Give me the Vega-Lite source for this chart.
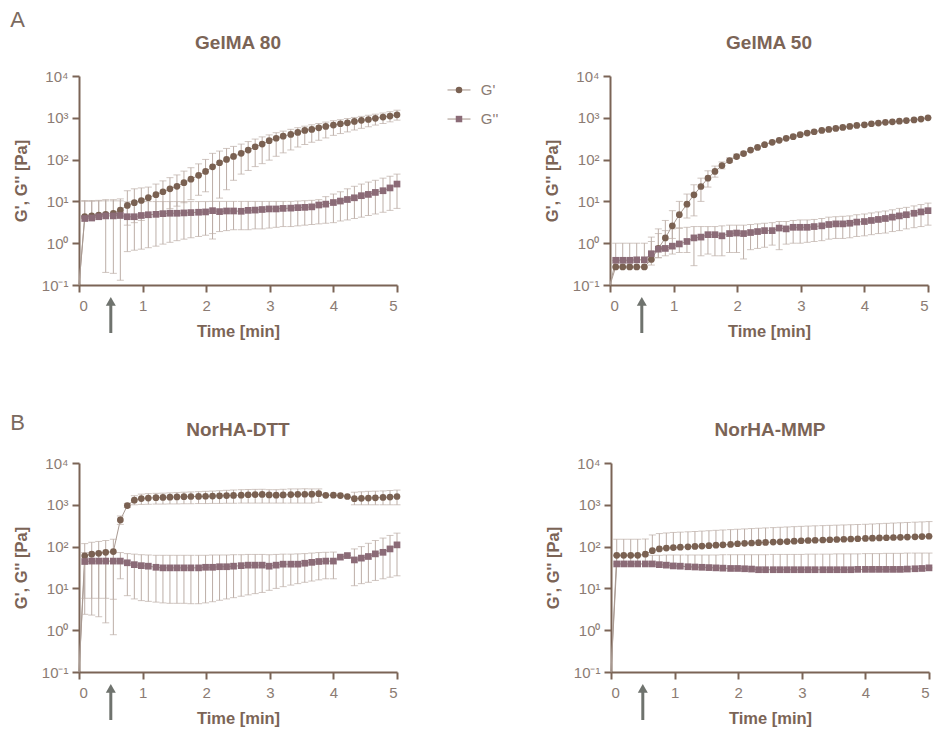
{
  "$schema": "https://vega.github.io/schema/vega-lite/v6.json",
  "background": "white",
  "padding": {"left": 10, "top": 9, "right": 5, "bottom": 0},
  "config": {
    "font": "Liberation Sans",
    "view": {"stroke": null},
    "axis": {"domainColor": "#7b6456", "domainWidth": 2, "tickColor": "#7b6456", "tickWidth": 2, "tickSize": 7, "labelColor": "#8b7b73", "labelFontSize": 15, "labelFont": "Liberation Sans", "titleColor": "#7b6456", "titleFontSize": 16.5, "titleFontWeight": "bold", "titleFont": "Liberation Sans", "grid": false},
    "title": {"fontSize": 22, "fontWeight": "normal", "color": "#7b6a60", "anchor": "start", "font": "Liberation Sans", "frame": "bounds"}
  },
  "data": {"name": "d"},
  "datasets": {
    "d": [
      {"p":"GelMA 80","t":0,"a":0.1,"b":0.1},
      {"p":"GelMA 80","t":0.09,"a":4.3,"al":4.3,"ah":10.5,"b":3.9,"bl":3.9,"bh":10},
      {"p":"GelMA 80","t":0.2,"a":4.5,"al":4.5,"ah":10.5,"b":4.0,"bl":4.0,"bh":10},
      {"p":"GelMA 80","t":0.31,"a":4.7,"al":4.7,"ah":10.6,"b":4.3,"bl":4.3,"bh":10.2},
      {"p":"GelMA 80","t":0.42,"a":4.9,"al":4.9,"ah":11,"b":4.5,"bl":0.2,"bh":10.3},
      {"p":"GelMA 80","t":0.54,"a":5.2,"al":5.2,"ah":11,"b":4.5,"bl":0.19,"bh":10.3},
      {"p":"GelMA 80","t":0.65,"a":6.2,"al":6.2,"ah":11.5,"b":4.6,"bl":0.13,"bh":10.3},
      {"p":"GelMA 80","t":0.76,"a":8.0,"al":2.7,"ah":18,"b":4.3,"bl":0.63,"bh":9.8},
      {"p":"GelMA 80","t":0.87,"a":9.3,"al":3.1,"ah":20,"b":4.3,"bl":0.68,"bh":9.8},
      {"p":"GelMA 80","t":0.98,"a":10.5,"al":3.5,"ah":21,"b":4.6,"bl":0.72,"bh":9.9},
      {"p":"GelMA 80","t":1.09,"a":12.3,"al":4.1,"ah":22,"b":4.8,"bl":0.78,"bh":9.9},
      {"p":"GelMA 80","t":1.21,"a":14.5,"al":4.8,"ah":26,"b":4.9,"bl":0.85,"bh":9.9},
      {"p":"GelMA 80","t":1.32,"a":17,"al":5.7,"ah":31,"b":5.1,"bl":0.95,"bh":9.9},
      {"p":"GelMA 80","t":1.43,"a":20,"al":6.7,"ah":37,"b":5.2,"bl":1.05,"bh":9.9},
      {"p":"GelMA 80","t":1.54,"a":23,"al":7.7,"ah":43,"b":5.2,"bl":1.15,"bh":9.9},
      {"p":"GelMA 80","t":1.65,"a":28,"al":9.3,"ah":53,"b":5.3,"bl":1.25,"bh":9.9},
      {"p":"GelMA 80","t":1.76,"a":34,"al":11,"ah":64,"b":5.4,"bl":1.35,"bh":9.9},
      {"p":"GelMA 80","t":1.88,"a":42,"al":14,"ah":79,"b":5.5,"bl":1.45,"bh":9.9},
      {"p":"GelMA 80","t":1.99,"a":52,"al":17,"ah":101,"b":5.6,"bl":1.55,"bh":9.9},
      {"p":"GelMA 80","t":2.1,"a":67,"al":1.26,"ah":141,"b":6.0,"bl":1.7,"bh":10},
      {"p":"GelMA 80","t":2.21,"a":84,"al":12,"ah":160,"b":5.7,"bl":1.9,"bh":10},
      {"p":"GelMA 80","t":2.32,"a":101,"al":19,"ah":185,"b":5.9,"bl":2.0,"bh":10},
      {"p":"GelMA 80","t":2.43,"a":119,"al":32,"ah":207,"b":5.9,"bl":2.1,"bh":10},
      {"p":"GelMA 80","t":2.55,"a":141,"al":45,"ah":235,"b":5.8,"bl":2.1,"bh":10},
      {"p":"GelMA 80","t":2.66,"a":169,"al":55,"ah":270,"b":6.1,"bl":2.1,"bh":10},
      {"p":"GelMA 80","t":2.77,"a":203,"al":68,"ah":310,"b":6.2,"bl":2.2,"bh":10},
      {"p":"GelMA 80","t":2.88,"a":235,"al":80,"ah":350,"b":6.4,"bl":2.2,"bh":10},
      {"p":"GelMA 80","t":2.99,"a":283,"al":97,"ah":390,"b":6.6,"bl":2.3,"bh":10},
      {"p":"GelMA 80","t":3.1,"a":324,"al":120,"ah":440,"b":6.6,"bl":2.4,"bh":10},
      {"p":"GelMA 80","t":3.21,"a":363,"al":145,"ah":480,"b":6.8,"bl":2.5,"bh":10},
      {"p":"GelMA 80","t":3.33,"a":400,"al":170,"ah":530,"b":6.9,"bl":2.5,"bh":10},
      {"p":"GelMA 80","t":3.44,"a":447,"al":200,"ah":580,"b":7.1,"bl":2.6,"bh":10.2},
      {"p":"GelMA 80","t":3.55,"a":500,"al":230,"ah":630,"b":7.2,"bl":2.7,"bh":10.4},
      {"p":"GelMA 80","t":3.66,"a":528,"al":260,"ah":680,"b":7.4,"bl":2.8,"bh":10.6},
      {"p":"GelMA 80","t":3.77,"a":576,"al":290,"ah":730,"b":8.2,"bl":2.9,"bh":11},
      {"p":"GelMA 80","t":3.88,"a":620,"al":330,"ah":790,"b":8.6,"bl":3.0,"bh":13},
      {"p":"GelMA 80","t":4.0,"a":670,"al":380,"ah":850,"b":9.4,"bl":3.1,"bh":15},
      {"p":"GelMA 80","t":4.11,"a":720,"al":420,"ah":900,"b":10.2,"bl":3.4,"bh":17},
      {"p":"GelMA 80","t":4.22,"a":760,"al":460,"ah":960,"b":11.1,"bl":3.6,"bh":20},
      {"p":"GelMA 80","t":4.33,"a":820,"al":510,"ah":1020,"b":12.2,"bl":3.9,"bh":23},
      {"p":"GelMA 80","t":4.44,"a":870,"al":560,"ah":1080,"b":13.7,"bl":4.2,"bh":26},
      {"p":"GelMA 80","t":4.55,"a":910,"al":610,"ah":1150,"b":14.7,"bl":4.6,"bh":29},
      {"p":"GelMA 80","t":4.66,"a":970,"al":670,"ah":1220,"b":16.4,"bl":5.0,"bh":32},
      {"p":"GelMA 80","t":4.78,"a":1040,"al":730,"ah":1300,"b":18,"bl":5.5,"bh":36},
      {"p":"GelMA 80","t":4.89,"a":1100,"al":800,"ah":1400,"b":21,"bl":6.1,"bh":40},
      {"p":"GelMA 80","t":5.0,"a":1180,"al":880,"ah":1520,"b":26,"bl":6.8,"bh":45},
      {"p":"GelMA 80","t":0.5,"u1":0.0071,"u2":0.0407},

      {"p":"GelMA 50","t":0,"a":0.1,"b":0.1},
      {"p":"GelMA 50","t":0.09,"a":0.27,"al":0.27,"ah":0.27,"b":0.39,"bl":0.39,"bh":1.0},
      {"p":"GelMA 50","t":0.2,"a":0.27,"al":0.27,"ah":0.27,"b":0.39,"bl":0.39,"bh":1.0},
      {"p":"GelMA 50","t":0.31,"a":0.27,"al":0.27,"ah":0.27,"b":0.39,"bl":0.39,"bh":1.0},
      {"p":"GelMA 50","t":0.42,"a":0.27,"al":0.27,"ah":0.27,"b":0.4,"bl":0.4,"bh":1.0},
      {"p":"GelMA 50","t":0.54,"a":0.27,"al":0.27,"ah":0.27,"b":0.4,"bl":0.4,"bh":1.0},
      {"p":"GelMA 50","t":0.65,"a":0.41,"al":0.3,"ah":1.4,"b":0.56,"bl":0.4,"bh":1.1},
      {"p":"GelMA 50","t":0.76,"a":0.75,"al":0.45,"ah":2.2,"b":0.72,"bl":0.45,"bh":1.7},
      {"p":"GelMA 50","t":0.87,"a":1.34,"al":0.7,"ah":3.5,"b":0.75,"bl":0.5,"bh":2.0},
      {"p":"GelMA 50","t":0.98,"a":2.6,"al":1.3,"ah":6,"b":0.85,"bl":0.55,"bh":2.2},
      {"p":"GelMA 50","t":1.09,"a":4.8,"al":2.3,"ah":10,"b":0.96,"bl":0.6,"bh":2.3},
      {"p":"GelMA 50","t":1.21,"a":8.6,"al":4,"ah":15,"b":1.1,"bl":0.6,"bh":2.4},
      {"p":"GelMA 50","t":1.32,"a":14.4,"al":4.5,"ah":25,"b":1.34,"bl":0.29,"bh":2.5},
      {"p":"GelMA 50","t":1.43,"a":22.7,"al":10,"ah":36,"b":1.4,"bl":0.5,"bh":2.5},
      {"p":"GelMA 50","t":1.54,"a":36,"al":22,"ah":54,"b":1.6,"bl":0.55,"bh":2.5},
      {"p":"GelMA 50","t":1.65,"a":52,"al":38,"ah":70,"b":1.6,"bl":0.5,"bh":2.5},
      {"p":"GelMA 50","t":1.76,"a":72,"al":60,"ah":88,"b":1.5,"bl":0.5,"bh":2.6},
      {"p":"GelMA 50","t":1.88,"a":95,"al":85,"ah":110,"b":1.7,"bl":0.6,"bh":2.7},
      {"p":"GelMA 50","t":1.99,"a":118,"al":108,"ah":135,"b":1.75,"bl":0.6,"bh":2.7},
      {"p":"GelMA 50","t":2.1,"a":139,"al":130,"ah":152,"b":1.7,"bl":0.42,"bh":2.7},
      {"p":"GelMA 50","t":2.21,"a":169,"al":160,"ah":178,"b":1.8,"bl":0.7,"bh":2.8},
      {"p":"GelMA 50","t":2.32,"a":196,"al":187,"ah":205,"b":1.9,"bl":0.75,"bh":2.9},
      {"p":"GelMA 50","t":2.43,"a":227,"al":216,"ah":238,"b":2.0,"bl":0.8,"bh":3.0},
      {"p":"GelMA 50","t":2.55,"a":259,"al":259,"ah":259,"b":2.0,"bl":0.9,"bh":3.1},
      {"p":"GelMA 50","t":2.66,"a":289,"al":289,"ah":289,"b":2.3,"bl":0.7,"bh":3.3},
      {"p":"GelMA 50","t":2.77,"a":323,"al":323,"ah":323,"b":2.2,"bl":0.95,"bh":3.3},
      {"p":"GelMA 50","t":2.88,"a":353,"al":353,"ah":353,"b":2.4,"bl":1.0,"bh":3.5},
      {"p":"GelMA 50","t":2.99,"a":395,"al":395,"ah":395,"b":2.4,"bl":1.0,"bh":3.6},
      {"p":"GelMA 50","t":3.1,"a":430,"al":430,"ah":430,"b":2.4,"bl":1.05,"bh":3.6},
      {"p":"GelMA 50","t":3.21,"a":464,"al":464,"ah":464,"b":2.5,"bl":1.1,"bh":3.7},
      {"p":"GelMA 50","t":3.33,"a":500,"al":500,"ah":500,"b":2.6,"bl":1.15,"bh":3.9},
      {"p":"GelMA 50","t":3.44,"a":527,"al":527,"ah":527,"b":2.8,"bl":1.25,"bh":4.2},
      {"p":"GelMA 50","t":3.55,"a":558,"al":558,"ah":558,"b":2.9,"bl":1.3,"bh":4.3},
      {"p":"GelMA 50","t":3.66,"a":590,"al":590,"ah":590,"b":2.9,"bl":1.3,"bh":4.4},
      {"p":"GelMA 50","t":3.77,"a":620,"al":620,"ah":620,"b":3.0,"bl":1.35,"bh":4.5},
      {"p":"GelMA 50","t":3.88,"a":657,"al":657,"ah":657,"b":3.2,"bl":1.45,"bh":4.8},
      {"p":"GelMA 50","t":4.0,"a":680,"al":680,"ah":680,"b":3.3,"bl":1.5,"bh":5.0},
      {"p":"GelMA 50","t":4.11,"a":720,"al":720,"ah":720,"b":3.5,"bl":1.6,"bh":5.3},
      {"p":"GelMA 50","t":4.22,"a":750,"al":750,"ah":750,"b":3.7,"bl":1.7,"bh":5.6},
      {"p":"GelMA 50","t":4.33,"a":780,"al":780,"ah":780,"b":3.9,"bl":1.75,"bh":5.9},
      {"p":"GelMA 50","t":4.44,"a":800,"al":800,"ah":800,"b":4.2,"bl":1.9,"bh":6.3},
      {"p":"GelMA 50","t":4.55,"a":830,"al":830,"ah":830,"b":4.5,"bl":2.0,"bh":6.8},
      {"p":"GelMA 50","t":4.66,"a":860,"al":860,"ah":860,"b":4.8,"bl":2.2,"bh":7.2},
      {"p":"GelMA 50","t":4.78,"a":890,"al":890,"ah":890,"b":5.2,"bl":2.35,"bh":7.8},
      {"p":"GelMA 50","t":4.89,"a":930,"al":930,"ah":930,"b":5.6,"bl":2.5,"bh":8.4},
      {"p":"GelMA 50","t":5.0,"a":1000,"al":1000,"ah":1000,"b":6.0,"bl":2.7,"bh":9.1},
      {"p":"GelMA 50","t":0.5,"u1":0.0071,"u2":0.0407},

      {"p":"NorHA-DTT","t":0,"a":0.1,"b":0.1},
      {"p":"NorHA-DTT","t":0.09,"a":60,"al":5.8,"ah":118,"b":44,"bl":2.4,"bh":72},
      {"p":"NorHA-DTT","t":0.2,"a":66,"al":5.8,"ah":127,"b":45,"bl":2.3,"bh":72},
      {"p":"NorHA-DTT","t":0.31,"a":69,"al":5.8,"ah":133,"b":45,"bl":2.1,"bh":72},
      {"p":"NorHA-DTT","t":0.42,"a":73,"al":5.8,"ah":140,"b":45,"bl":1.5,"bh":72},
      {"p":"NorHA-DTT","t":0.54,"a":76,"al":5.5,"ah":150,"b":45,"bl":0.78,"bh":72},
      {"p":"NorHA-DTT","t":0.65,"a":435,"al":340,"ah":540,"b":45,"bl":17,"bh":72},
      {"p":"NorHA-DTT","t":0.76,"a":960,"al":860,"ah":1080,"b":41,"bl":6.7,"bh":68},
      {"p":"NorHA-DTT","t":0.87,"a":1290,"al":1000,"ah":1650,"b":37,"bl":5.6,"bh":66},
      {"p":"NorHA-DTT","t":0.98,"a":1410,"al":1020,"ah":1800,"b":35,"bl":5.1,"bh":64},
      {"p":"NorHA-DTT","t":1.09,"a":1450,"al":1030,"ah":1850,"b":34,"bl":4.9,"bh":63},
      {"p":"NorHA-DTT","t":1.21,"a":1480,"al":1040,"ah":1880,"b":32,"bl":4.7,"bh":62},
      {"p":"NorHA-DTT","t":1.32,"a":1500,"al":1040,"ah":1900,"b":31,"bl":4.5,"bh":62},
      {"p":"NorHA-DTT","t":1.43,"a":1520,"al":1050,"ah":1930,"b":31,"bl":4.4,"bh":62},
      {"p":"NorHA-DTT","t":1.54,"a":1540,"al":1050,"ah":1960,"b":31,"bl":4.4,"bh":62},
      {"p":"NorHA-DTT","t":1.65,"a":1560,"al":1060,"ah":2000,"b":31,"bl":4.4,"bh":62},
      {"p":"NorHA-DTT","t":1.76,"a":1580,"al":1060,"ah":2030,"b":31,"bl":4.3,"bh":62},
      {"p":"NorHA-DTT","t":1.88,"a":1590,"al":1070,"ah":2060,"b":31,"bl":4.3,"bh":62},
      {"p":"NorHA-DTT","t":1.99,"a":1600,"al":1070,"ah":2100,"b":32,"bl":4.5,"bh":62},
      {"p":"NorHA-DTT","t":2.1,"a":1620,"al":1080,"ah":2130,"b":32,"bl":4.8,"bh":63},
      {"p":"NorHA-DTT","t":2.21,"a":1640,"al":1080,"ah":2170,"b":33,"bl":5.2,"bh":63},
      {"p":"NorHA-DTT","t":2.32,"a":1660,"al":1090,"ah":2220,"b":33,"bl":5.6,"bh":63},
      {"p":"NorHA-DTT","t":2.43,"a":1680,"al":1090,"ah":2260,"b":34,"bl":6.0,"bh":64},
      {"p":"NorHA-DTT","t":2.55,"a":1700,"al":1100,"ah":2300,"b":35,"bl":6.5,"bh":64},
      {"p":"NorHA-DTT","t":2.66,"a":1740,"al":1100,"ah":2320,"b":36,"bl":7.0,"bh":65},
      {"p":"NorHA-DTT","t":2.77,"a":1760,"al":1100,"ah":2340,"b":36,"bl":7.5,"bh":65},
      {"p":"NorHA-DTT","t":2.88,"a":1770,"al":1100,"ah":2350,"b":36,"bl":8.0,"bh":65},
      {"p":"NorHA-DTT","t":2.99,"a":1720,"al":1100,"ah":2300,"b":34,"bl":9.0,"bh":64},
      {"p":"NorHA-DTT","t":3.1,"a":1700,"al":1100,"ah":2300,"b":36,"bl":10,"bh":65},
      {"p":"NorHA-DTT","t":3.21,"a":1720,"al":1100,"ah":2350,"b":38,"bl":11,"bh":66},
      {"p":"NorHA-DTT","t":3.33,"a":1760,"al":1100,"ah":2400,"b":38,"bl":12,"bh":66},
      {"p":"NorHA-DTT","t":3.44,"a":1780,"al":1100,"ah":2400,"b":38,"bl":13,"bh":67},
      {"p":"NorHA-DTT","t":3.55,"a":1790,"al":1100,"ah":2420,"b":40,"bl":14,"bh":68},
      {"p":"NorHA-DTT","t":3.66,"a":1800,"al":1100,"ah":2400,"b":42,"bl":15,"bh":70},
      {"p":"NorHA-DTT","t":3.77,"a":1850,"al":1150,"ah":2400,"b":44,"bl":16,"bh":72},
      {"p":"NorHA-DTT","t":3.88,"a":1690,"al":1690,"ah":1690,"b":45,"bl":17,"bh":73},
      {"p":"NorHA-DTT","t":4.0,"a":1700,"al":1700,"ah":1700,"b":45,"bl":17,"bh":74},
      {"p":"NorHA-DTT","t":4.11,"a":1660,"al":1660,"ah":1660,"b":56,"bl":56,"bh":56},
      {"p":"NorHA-DTT","t":4.22,"a":1580,"al":1580,"ah":1580,"b":61,"bl":61,"bh":61},
      {"p":"NorHA-DTT","t":4.33,"a":1400,"al":1000,"ah":2000,"b":48,"bl":11.6,"bh":88},
      {"p":"NorHA-DTT","t":4.44,"a":1430,"al":1000,"ah":2050,"b":53,"bl":13,"bh":100},
      {"p":"NorHA-DTT","t":4.55,"a":1450,"al":1000,"ah":2100,"b":58,"bl":14,"bh":120},
      {"p":"NorHA-DTT","t":4.66,"a":1470,"al":1000,"ah":2120,"b":67,"bl":15.5,"bh":140},
      {"p":"NorHA-DTT","t":4.78,"a":1500,"al":1000,"ah":2150,"b":73,"bl":17,"bh":160},
      {"p":"NorHA-DTT","t":4.89,"a":1530,"al":1000,"ah":2200,"b":88,"bl":18.5,"bh":185},
      {"p":"NorHA-DTT","t":5.0,"a":1580,"al":1000,"ah":2250,"b":110,"bl":20,"bh":210},
      {"p":"NorHA-DTT","t":0.5,"u1":0.0071,"u2":0.0407},

      {"p":"NorHA-MMP","t":0,"a":0.1,"b":0.1},
      {"p":"NorHA-MMP","t":0.09,"a":62,"al":62,"ah":150,"b":38.5,"bl":38.5,"bh":60},
      {"p":"NorHA-MMP","t":0.2,"a":62,"al":62,"ah":150,"b":38.5,"bl":38.5,"bh":60},
      {"p":"NorHA-MMP","t":0.31,"a":62,"al":62,"ah":150,"b":38.5,"bl":38.5,"bh":60},
      {"p":"NorHA-MMP","t":0.42,"a":62,"al":62,"ah":150,"b":38.5,"bl":38.5,"bh":60},
      {"p":"NorHA-MMP","t":0.54,"a":66,"al":66,"ah":152,"b":38.5,"bl":38.5,"bh":60},
      {"p":"NorHA-MMP","t":0.65,"a":80,"al":80,"ah":190,"b":38.5,"bl":38.5,"bh":62},
      {"p":"NorHA-MMP","t":0.76,"a":88,"al":88,"ah":205,"b":37,"bl":37,"bh":62},
      {"p":"NorHA-MMP","t":0.87,"a":92,"al":92,"ah":212,"b":36,"bl":36,"bh":63},
      {"p":"NorHA-MMP","t":0.98,"a":95,"al":95,"ah":218,"b":34.5,"bl":34.5,"bh":63},
      {"p":"NorHA-MMP","t":1.09,"a":97,"al":97,"ah":222,"b":34,"bl":34,"bh":63},
      {"p":"NorHA-MMP","t":1.21,"a":99,"al":99,"ah":226,"b":33,"bl":33,"bh":63},
      {"p":"NorHA-MMP","t":1.32,"a":101,"al":101,"ah":230,"b":32.5,"bl":32.5,"bh":63},
      {"p":"NorHA-MMP","t":1.43,"a":103,"al":103,"ah":235,"b":32,"bl":32,"bh":63},
      {"p":"NorHA-MMP","t":1.54,"a":105,"al":105,"ah":240,"b":31.5,"bl":31.5,"bh":63},
      {"p":"NorHA-MMP","t":1.65,"a":108,"al":108,"ah":245,"b":31,"bl":31,"bh":63},
      {"p":"NorHA-MMP","t":1.76,"a":110,"al":110,"ah":250,"b":30.5,"bl":30.5,"bh":64},
      {"p":"NorHA-MMP","t":1.88,"a":113,"al":113,"ah":255,"b":30,"bl":30,"bh":64},
      {"p":"NorHA-MMP","t":1.99,"a":117,"al":117,"ah":260,"b":30,"bl":30,"bh":64},
      {"p":"NorHA-MMP","t":2.1,"a":120,"al":120,"ah":265,"b":29.5,"bl":29.5,"bh":64},
      {"p":"NorHA-MMP","t":2.21,"a":122,"al":122,"ah":270,"b":29,"bl":29,"bh":64},
      {"p":"NorHA-MMP","t":2.32,"a":124,"al":124,"ah":275,"b":28,"bl":28,"bh":64},
      {"p":"NorHA-MMP","t":2.43,"a":126,"al":126,"ah":280,"b":28,"bl":28,"bh":64},
      {"p":"NorHA-MMP","t":2.55,"a":128,"al":128,"ah":285,"b":28,"bl":28,"bh":65},
      {"p":"NorHA-MMP","t":2.66,"a":130,"al":130,"ah":290,"b":28,"bl":28,"bh":65},
      {"p":"NorHA-MMP","t":2.77,"a":132,"al":132,"ah":295,"b":28,"bl":28,"bh":65},
      {"p":"NorHA-MMP","t":2.88,"a":135,"al":135,"ah":300,"b":28,"bl":28,"bh":65},
      {"p":"NorHA-MMP","t":2.99,"a":138,"al":138,"ah":305,"b":28,"bl":28,"bh":65},
      {"p":"NorHA-MMP","t":3.1,"a":140,"al":140,"ah":310,"b":28,"bl":28,"bh":66},
      {"p":"NorHA-MMP","t":3.21,"a":142,"al":142,"ah":314,"b":28,"bl":28,"bh":66},
      {"p":"NorHA-MMP","t":3.33,"a":144,"al":144,"ah":318,"b":28,"bl":28,"bh":66},
      {"p":"NorHA-MMP","t":3.44,"a":146,"al":146,"ah":322,"b":28,"bl":28,"bh":66},
      {"p":"NorHA-MMP","t":3.55,"a":148,"al":148,"ah":326,"b":28,"bl":28,"bh":67},
      {"p":"NorHA-MMP","t":3.66,"a":150,"al":150,"ah":330,"b":28,"bl":28,"bh":67},
      {"p":"NorHA-MMP","t":3.77,"a":152,"al":152,"ah":334,"b":28,"bl":28,"bh":67},
      {"p":"NorHA-MMP","t":3.88,"a":154,"al":154,"ah":338,"b":28.5,"bl":28.5,"bh":67},
      {"p":"NorHA-MMP","t":4.0,"a":157,"al":157,"ah":342,"b":28.5,"bl":28.5,"bh":68},
      {"p":"NorHA-MMP","t":4.11,"a":159,"al":159,"ah":348,"b":28.5,"bl":28.5,"bh":68},
      {"p":"NorHA-MMP","t":4.22,"a":161,"al":161,"ah":354,"b":28.5,"bl":28.5,"bh":68},
      {"p":"NorHA-MMP","t":4.33,"a":163,"al":163,"ah":360,"b":28.5,"bl":28.5,"bh":69},
      {"p":"NorHA-MMP","t":4.44,"a":165,"al":165,"ah":366,"b":28.5,"bl":28.5,"bh":69},
      {"p":"NorHA-MMP","t":4.55,"a":167,"al":167,"ah":372,"b":28.5,"bl":28.5,"bh":69},
      {"p":"NorHA-MMP","t":4.66,"a":169,"al":169,"ah":378,"b":29,"bl":29,"bh":70},
      {"p":"NorHA-MMP","t":4.78,"a":171,"al":171,"ah":384,"b":29.5,"bl":29.5,"bh":70},
      {"p":"NorHA-MMP","t":4.89,"a":174,"al":174,"ah":390,"b":30,"bl":30,"bh":70},
      {"p":"NorHA-MMP","t":5.0,"a":177,"al":177,"ah":397,"b":31,"bl":31,"bh":70},
      {"p":"NorHA-MMP","t":0.5,"u1":0.0071,"u2":0.0407}
    ]
  },
  "spacing": 72,
  "vconcat": [
    {
      "title": {"text": "A", "dx": -3, "offset": 2},
      "spacing": 45.5,
      "hconcat": [
        {
          "title": {"text": "GelMA 80", "fontSize": 19, "fontWeight": "bold", "color": "#7b6456", "anchor": "middle", "frame": "group", "offset": 16},
          "width": 318, "height": 209,
          "transform": [{"filter": "datum.p === 'GelMA 80'"}],
          "encoding": {"x": {"field": "t", "type": "quantitative", "scale": {"domain": [0, 5], "nice": false}, "axis": {"values": [0, 1, 2, 3, 4, 5], "format": "d", "title": "Time [min]", "titlePadding": 10, "labelPadding": 6}}},
          "layer": [
            {"transform": [{"filter": "isValid(datum.a)"}], "mark": {"type": "line", "color": "#a99a92", "strokeWidth": 1},
             "encoding": {"y": {"field": "a", "type": "quantitative", "title": "G', G'' [Pa]", "scale": {"type": "log", "domain": [0.1, 10000], "nice": false}, "axis": {"values": [0.1, 1, 10, 100, 1000, 10000], "labelExpr": "datum.value >= 9999 ? '10⁴' : datum.value >= 999 ? '10³' : datum.value >= 99 ? '10²' : datum.value >= 9 ? '10¹' : datum.value >= 0.9 ? '10⁰' : '10⁻¹'", "titlePadding": 12, "labelPadding": 4}}}},
            {"transform": [{"filter": "isValid(datum.b)"}], "mark": {"type": "line", "color": "#a99a92", "strokeWidth": 1}, "encoding": {"y": {"field": "b", "type": "quantitative", "title": "G', G'' [Pa]"}}},
            {"transform": [{"filter": "isValid(datum.ah)"}], "mark": {"type": "rule", "color": "#bcaea7", "strokeWidth": 1}, "encoding": {"y": {"field": "al", "type": "quantitative", "title": "G', G'' [Pa]"}, "y2": {"field": "ah"}}},
            {"transform": [{"filter": "isValid(datum.bh)"}], "mark": {"type": "rule", "color": "#bcaea7", "strokeWidth": 1}, "encoding": {"y": {"field": "bl", "type": "quantitative", "title": "G', G'' [Pa]"}, "y2": {"field": "bh"}}},
            {"transform": [{"filter": "isValid(datum.ah)"}, {"fold": ["al", "ah", "bl", "bh"], "as": ["k", "v"]}], "mark": {"type": "tick", "orient": "horizontal", "color": "#bcaea7", "size": 7, "thickness": 1}, "encoding": {"y": {"field": "v", "type": "quantitative", "title": "G', G'' [Pa]"}}},
            {"transform": [{"filter": "isValid(datum.ah)"}], "mark": {"type": "point", "shape": "circle", "filled": true, "opacity": 1, "size": 45, "color": "#7a6152"}, "encoding": {"y": {"field": "a", "type": "quantitative", "title": "G', G'' [Pa]"}}},
            {"transform": [{"filter": "isValid(datum.bh)"}], "mark": {"type": "point", "shape": "square", "filled": true, "opacity": 1, "size": 45, "color": "#8b6b77"}, "encoding": {"y": {"field": "b", "type": "quantitative", "title": "G', G'' [Pa]"}}},
            {"transform": [{"filter": "isValid(datum.u1)"}], "mark": {"type": "rule", "color": "#6f736e", "strokeWidth": 3}, "encoding": {"y": {"field": "u1", "type": "quantitative", "title": "G', G'' [Pa]"}, "y2": {"field": "u2"}}},
            {"transform": [{"filter": "isValid(datum.u1)"}], "mark": {"type": "point", "shape": "triangle-up", "filled": true, "color": "#6f736e", "opacity": 1, "size": 100}, "encoding": {"y": {"field": "u2", "type": "quantitative", "title": "G', G'' [Pa]"}}}
          ]
        },
        {
          "width": 46, "height": 57,
          "data": {"values": [{"s": "G'"}, {"s": "G''"}]},
          "encoding": {"y": {"field": "s", "type": "nominal", "scale": {"type": "point", "domain": ["G'", "G''"], "padding": 0.48}, "axis": null}},
          "layer": [
            {"mark": {"type": "rule", "color": "#b3a39b", "strokeWidth": 1.2}, "encoding": {"x": {"datum": 0, "type": "quantitative", "scale": {"domain": [0, 2], "nice": false}, "axis": null}, "x2": {"datum": 1}}},
            {"mark": {"type": "point", "filled": true, "opacity": 1, "size": 42}, "encoding": {"x": {"datum": 0.5, "type": "quantitative"},
              "shape": {"field": "s", "type": "nominal", "scale": {"domain": ["G'", "G''"], "range": ["circle", "square"]}, "legend": null},
              "color": {"field": "s", "type": "nominal", "scale": {"domain": ["G'", "G''"], "range": ["#7a6152", "#8b6b77"]}, "legend": null}}},
            {"mark": {"type": "text", "align": "left", "baseline": "middle", "fontSize": 15, "color": "#8b7b73", "font": "Liberation Sans"}, "encoding": {"x": {"datum": 1.45, "type": "quantitative"}, "text": {"field": "s"}}}
          ]
        },
        {
          "title": {"text": "GelMA 50", "fontSize": 19, "fontWeight": "bold", "color": "#7b6456", "anchor": "middle", "frame": "group", "offset": 16},
          "width": 318, "height": 209,
          "transform": [{"filter": "datum.p === 'GelMA 50'"}],
          "encoding": {"x": {"field": "t", "type": "quantitative", "scale": {"domain": [0, 5], "nice": false}, "axis": {"values": [0, 1, 2, 3, 4, 5], "format": "d", "title": "Time [min]", "titlePadding": 10, "labelPadding": 6}}},
          "layer": [
            {"transform": [{"filter": "isValid(datum.a)"}], "mark": {"type": "line", "color": "#a99a92", "strokeWidth": 1},
             "encoding": {"y": {"field": "a", "type": "quantitative", "title": "G', G'' [Pa]", "scale": {"type": "log", "domain": [0.1, 10000], "nice": false}, "axis": {"values": [0.1, 1, 10, 100, 1000, 10000], "labelExpr": "datum.value >= 9999 ? '10⁴' : datum.value >= 999 ? '10³' : datum.value >= 99 ? '10²' : datum.value >= 9 ? '10¹' : datum.value >= 0.9 ? '10⁰' : '10⁻¹'", "titlePadding": 12, "labelPadding": 4}}}},
            {"transform": [{"filter": "isValid(datum.b)"}], "mark": {"type": "line", "color": "#a99a92", "strokeWidth": 1}, "encoding": {"y": {"field": "b", "type": "quantitative", "title": "G', G'' [Pa]"}}},
            {"transform": [{"filter": "isValid(datum.ah)"}], "mark": {"type": "rule", "color": "#bcaea7", "strokeWidth": 1}, "encoding": {"y": {"field": "al", "type": "quantitative", "title": "G', G'' [Pa]"}, "y2": {"field": "ah"}}},
            {"transform": [{"filter": "isValid(datum.bh)"}], "mark": {"type": "rule", "color": "#bcaea7", "strokeWidth": 1}, "encoding": {"y": {"field": "bl", "type": "quantitative", "title": "G', G'' [Pa]"}, "y2": {"field": "bh"}}},
            {"transform": [{"filter": "isValid(datum.ah)"}, {"fold": ["al", "ah", "bl", "bh"], "as": ["k", "v"]}], "mark": {"type": "tick", "orient": "horizontal", "color": "#bcaea7", "size": 7, "thickness": 1}, "encoding": {"y": {"field": "v", "type": "quantitative", "title": "G', G'' [Pa]"}}},
            {"transform": [{"filter": "isValid(datum.ah)"}], "mark": {"type": "point", "shape": "circle", "filled": true, "opacity": 1, "size": 45, "color": "#7a6152"}, "encoding": {"y": {"field": "a", "type": "quantitative", "title": "G', G'' [Pa]"}}},
            {"transform": [{"filter": "isValid(datum.bh)"}], "mark": {"type": "point", "shape": "square", "filled": true, "opacity": 1, "size": 45, "color": "#8b6b77"}, "encoding": {"y": {"field": "b", "type": "quantitative", "title": "G', G'' [Pa]"}}},
            {"transform": [{"filter": "isValid(datum.u1)"}], "mark": {"type": "rule", "color": "#6f736e", "strokeWidth": 3}, "encoding": {"y": {"field": "u1", "type": "quantitative", "title": "G', G'' [Pa]"}, "y2": {"field": "u2"}}},
            {"transform": [{"filter": "isValid(datum.u1)"}], "mark": {"type": "point", "shape": "triangle-up", "filled": true, "color": "#6f736e", "opacity": 1, "size": 100}, "encoding": {"y": {"field": "u2", "type": "quantitative", "title": "G', G'' [Pa]"}}}
          ]
        }
      ]
    },
    {
      "title": {"text": "B", "dx": -3, "offset": -14},
      "spacing": 144,
      "hconcat": [
        {
          "title": {"text": "NorHA-DTT", "fontSize": 19, "fontWeight": "bold", "color": "#7b6456", "anchor": "middle", "frame": "group", "offset": 16},
          "width": 318, "height": 209,
          "transform": [{"filter": "datum.p === 'NorHA-DTT'"}],
          "encoding": {"x": {"field": "t", "type": "quantitative", "scale": {"domain": [0, 5], "nice": false}, "axis": {"values": [0, 1, 2, 3, 4, 5], "format": "d", "title": "Time [min]", "titlePadding": 10, "labelPadding": 6}}},
          "layer": [
            {"transform": [{"filter": "isValid(datum.a)"}], "mark": {"type": "line", "color": "#a99a92", "strokeWidth": 1},
             "encoding": {"y": {"field": "a", "type": "quantitative", "title": "G', G'' [Pa]", "scale": {"type": "log", "domain": [0.1, 10000], "nice": false}, "axis": {"values": [0.1, 1, 10, 100, 1000, 10000], "labelExpr": "datum.value >= 9999 ? '10⁴' : datum.value >= 999 ? '10³' : datum.value >= 99 ? '10²' : datum.value >= 9 ? '10¹' : datum.value >= 0.9 ? '10⁰' : '10⁻¹'", "titlePadding": 12, "labelPadding": 4}}}},
            {"transform": [{"filter": "isValid(datum.b)"}], "mark": {"type": "line", "color": "#a99a92", "strokeWidth": 1}, "encoding": {"y": {"field": "b", "type": "quantitative", "title": "G', G'' [Pa]"}}},
            {"transform": [{"filter": "isValid(datum.ah)"}], "mark": {"type": "rule", "color": "#bcaea7", "strokeWidth": 1}, "encoding": {"y": {"field": "al", "type": "quantitative", "title": "G', G'' [Pa]"}, "y2": {"field": "ah"}}},
            {"transform": [{"filter": "isValid(datum.bh)"}], "mark": {"type": "rule", "color": "#bcaea7", "strokeWidth": 1}, "encoding": {"y": {"field": "bl", "type": "quantitative", "title": "G', G'' [Pa]"}, "y2": {"field": "bh"}}},
            {"transform": [{"filter": "isValid(datum.ah)"}, {"fold": ["al", "ah", "bl", "bh"], "as": ["k", "v"]}], "mark": {"type": "tick", "orient": "horizontal", "color": "#bcaea7", "size": 7, "thickness": 1}, "encoding": {"y": {"field": "v", "type": "quantitative", "title": "G', G'' [Pa]"}}},
            {"transform": [{"filter": "isValid(datum.ah)"}], "mark": {"type": "point", "shape": "circle", "filled": true, "opacity": 1, "size": 45, "color": "#7a6152"}, "encoding": {"y": {"field": "a", "type": "quantitative", "title": "G', G'' [Pa]"}}},
            {"transform": [{"filter": "isValid(datum.bh)"}], "mark": {"type": "point", "shape": "square", "filled": true, "opacity": 1, "size": 45, "color": "#8b6b77"}, "encoding": {"y": {"field": "b", "type": "quantitative", "title": "G', G'' [Pa]"}}},
            {"transform": [{"filter": "isValid(datum.u1)"}], "mark": {"type": "rule", "color": "#6f736e", "strokeWidth": 3}, "encoding": {"y": {"field": "u1", "type": "quantitative", "title": "G', G'' [Pa]"}, "y2": {"field": "u2"}}},
            {"transform": [{"filter": "isValid(datum.u1)"}], "mark": {"type": "point", "shape": "triangle-up", "filled": true, "color": "#6f736e", "opacity": 1, "size": 100}, "encoding": {"y": {"field": "u2", "type": "quantitative", "title": "G', G'' [Pa]"}}}
          ]
        },
        {
          "title": {"text": "NorHA-MMP", "fontSize": 19, "fontWeight": "bold", "color": "#7b6456", "anchor": "middle", "frame": "group", "offset": 16},
          "width": 318, "height": 209,
          "transform": [{"filter": "datum.p === 'NorHA-MMP'"}],
          "encoding": {"x": {"field": "t", "type": "quantitative", "scale": {"domain": [0, 5], "nice": false}, "axis": {"values": [0, 1, 2, 3, 4, 5], "format": "d", "title": "Time [min]", "titlePadding": 10, "labelPadding": 6}}},
          "layer": [
            {"transform": [{"filter": "isValid(datum.a)"}], "mark": {"type": "line", "color": "#a99a92", "strokeWidth": 1},
             "encoding": {"y": {"field": "a", "type": "quantitative", "title": "G', G'' [Pa]", "scale": {"type": "log", "domain": [0.1, 10000], "nice": false}, "axis": {"values": [0.1, 1, 10, 100, 1000, 10000], "labelExpr": "datum.value >= 9999 ? '10⁴' : datum.value >= 999 ? '10³' : datum.value >= 99 ? '10²' : datum.value >= 9 ? '10¹' : datum.value >= 0.9 ? '10⁰' : '10⁻¹'", "titlePadding": 12, "labelPadding": 4}}}},
            {"transform": [{"filter": "isValid(datum.b)"}], "mark": {"type": "line", "color": "#a99a92", "strokeWidth": 1}, "encoding": {"y": {"field": "b", "type": "quantitative", "title": "G', G'' [Pa]"}}},
            {"transform": [{"filter": "isValid(datum.ah)"}], "mark": {"type": "rule", "color": "#bcaea7", "strokeWidth": 1}, "encoding": {"y": {"field": "al", "type": "quantitative", "title": "G', G'' [Pa]"}, "y2": {"field": "ah"}}},
            {"transform": [{"filter": "isValid(datum.bh)"}], "mark": {"type": "rule", "color": "#bcaea7", "strokeWidth": 1}, "encoding": {"y": {"field": "bl", "type": "quantitative", "title": "G', G'' [Pa]"}, "y2": {"field": "bh"}}},
            {"transform": [{"filter": "isValid(datum.ah)"}, {"fold": ["al", "ah", "bl", "bh"], "as": ["k", "v"]}], "mark": {"type": "tick", "orient": "horizontal", "color": "#bcaea7", "size": 7, "thickness": 1}, "encoding": {"y": {"field": "v", "type": "quantitative", "title": "G', G'' [Pa]"}}},
            {"transform": [{"filter": "isValid(datum.ah)"}], "mark": {"type": "point", "shape": "circle", "filled": true, "opacity": 1, "size": 45, "color": "#7a6152"}, "encoding": {"y": {"field": "a", "type": "quantitative", "title": "G', G'' [Pa]"}}},
            {"transform": [{"filter": "isValid(datum.bh)"}], "mark": {"type": "point", "shape": "square", "filled": true, "opacity": 1, "size": 45, "color": "#8b6b77"}, "encoding": {"y": {"field": "b", "type": "quantitative", "title": "G', G'' [Pa]"}}},
            {"transform": [{"filter": "isValid(datum.u1)"}], "mark": {"type": "rule", "color": "#6f736e", "strokeWidth": 3}, "encoding": {"y": {"field": "u1", "type": "quantitative", "title": "G', G'' [Pa]"}, "y2": {"field": "u2"}}},
            {"transform": [{"filter": "isValid(datum.u1)"}], "mark": {"type": "point", "shape": "triangle-up", "filled": true, "color": "#6f736e", "opacity": 1, "size": 100}, "encoding": {"y": {"field": "u2", "type": "quantitative", "title": "G', G'' [Pa]"}}}
          ]
        }
      ]
    }
  ]
}
